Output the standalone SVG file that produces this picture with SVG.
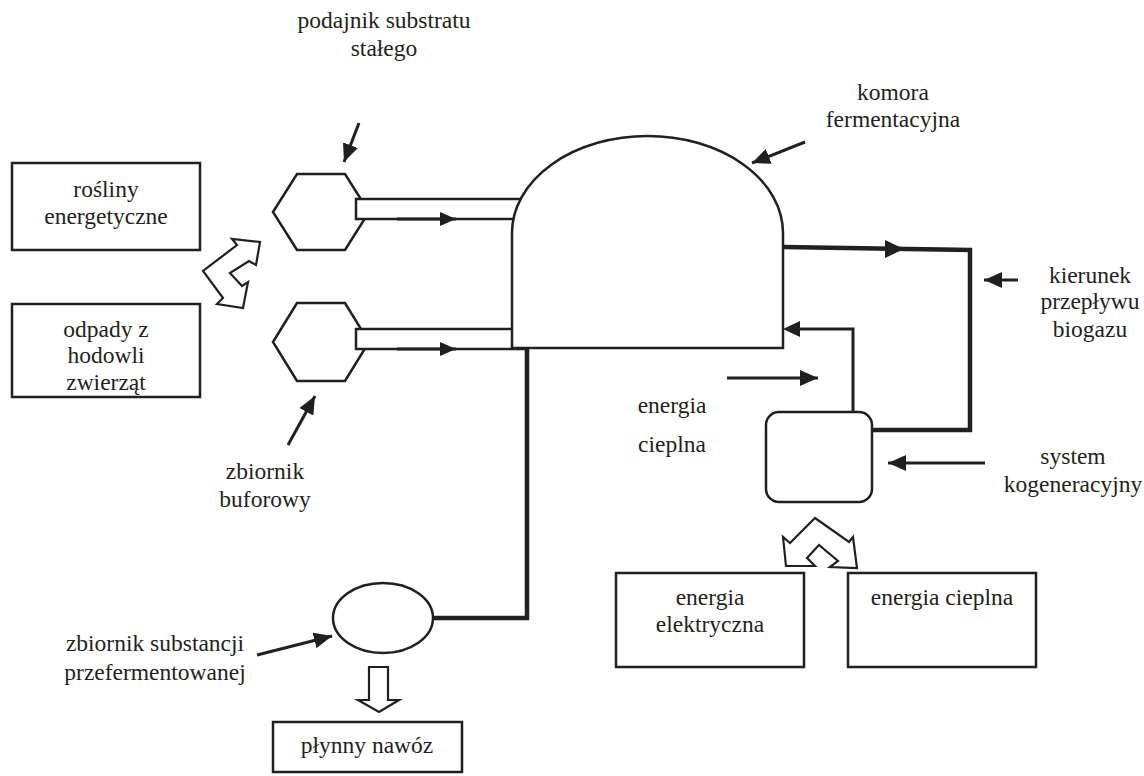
<svg xmlns="http://www.w3.org/2000/svg" width="1144" height="776" viewBox="0 0 1144 776">
<style>
text{font-family:'Liberation Serif','Times New Roman','DejaVu Serif',serif;font-size:23.5px;fill:#231f20;text-anchor:middle}
.box{fill:#fff;stroke:#231f20;stroke-width:2.5}
.thick{fill:none;stroke:#231f20;stroke-width:4.5}
.med{fill:none;stroke:#231f20;stroke-width:3}
.lbl{fill:none;stroke:#231f20;stroke-width:3}
.hollow{fill:#fff;stroke:#231f20;stroke-width:2.2;stroke-linejoin:miter}
</style>
<defs>
<marker id="ah" markerUnits="userSpaceOnUse" markerWidth="20" markerHeight="16" refX="18" refY="8" orient="auto">
<path d="M0,0 L18,8 L0,16 Z" fill="#231f20"/>
</marker>
<marker id="ahs" markerUnits="userSpaceOnUse" markerWidth="18" markerHeight="14" refX="16" refY="7" orient="auto">
<path d="M0,0 L16,7 L0,14 Z" fill="#231f20"/>
</marker>
</defs>
<rect width="1144" height="776" fill="#fff"/>

<g id="rosliny">
<rect class="box" x="12" y="163" width="188" height="87"/>
<text x="106" y="197">rośliny</text>
<text x="106" y="224">energetyczne</text>
</g>
<g id="odpady">
<rect class="box" x="12" y="304" width="188" height="93"/>
<text x="106" y="337">odpady z</text>
<text x="106" y="363">hodowli</text>
<text x="106" y="390">zwierząt</text>
</g>
<g id="double-arrow-left">
<polygon class="hollow" points="260,242 256,265 249,261 230,273 242,286 248,282 243,308 217,304 223,298 203,271 237,245 232,239"/>
</g>

<g id="podajnik">
<polygon class="box" points="273,212 297,174 345,174 369,212 345,250 297,250"/>
</g>
<g id="zbiornik-buforowy">
<polygon class="box" points="273,342 297,303 345,303 369,342 345,381 297,381"/>
</g>

<g id="connectors">
<rect class="box" x="356" y="199" width="174" height="20"/>
<rect class="box" x="356" y="329" width="170" height="20"/>
<line class="med" x1="397" y1="219" x2="456" y2="219" marker-end="url(#ahs)"/>
<line class="med" x1="397" y1="349" x2="456" y2="349" marker-end="url(#ahs)"/>
<polyline class="thick" points="527,347 527,618 433,618"/>
<polyline class="thick" points="783,247 970,250 970,430 872,430"/>
<path d="M885,240 L904,249 L885,258 Z" fill="#231f20"/>
<polyline class="med" points="853,412 853,329 800,329"/>
<path d="M783,329 L800,321 L800,337 Z" fill="#231f20"/>
<line class="med" x1="727" y1="378" x2="818" y2="378" marker-end="url(#ah)"/>
</g>

<g id="komora">
<path class="box" d="M512,348 L512,233 A135.5,97 0 0 1 783,233 L783,348 Z"/>
</g>

<g id="kogeneracja">
<rect class="box" x="766" y="412" width="106" height="90" rx="13"/>
</g>
<g id="double-arrow-right">
<polygon class="hollow" points="815,518 849,542 853,537 857,568 830,567 838,561 819,545 807,558 815,566 786,566 783,537 790,543"/>
</g>
<g id="energia-elektryczna">
<rect class="box" x="616" y="573" width="188" height="94"/>
<text x="710" y="605">energia</text>
<text x="710" y="632">elektryczna</text>
</g>
<g id="energia-cieplna-box">
<rect class="box" x="848" y="573" width="188" height="94"/>
<text x="942" y="605">energia cieplna</text>
</g>

<g id="zbiornik-substancji">
<ellipse class="box" cx="383" cy="618" rx="50" ry="35"/>
</g>
<g id="down-arrow">
<polygon class="hollow" points="369,667 388,667 388,700 399,700 379,712 358,700 369,700"/>
</g>
<g id="plynny-nawoz">
<rect class="box" x="273" y="722" width="189" height="50"/>
<text x="367" y="753">płynny nawóz</text>
</g>

<g id="labels">
<text x="384" y="28">podajnik substratu</text>
<text x="384" y="56">stałego</text>
<line class="lbl" x1="359" y1="123" x2="344" y2="162" marker-end="url(#ah)"/>
<text x="893" y="100">komora</text>
<text x="893" y="127">fermentacyjna</text>
<line class="lbl" x1="805" y1="142" x2="752" y2="163" marker-end="url(#ah)"/>
<text x="1090" y="283">kierunek</text>
<text x="1090" y="309">przepływu</text>
<text x="1090" y="337">biogazu</text>
<line class="lbl" x1="1018" y1="280" x2="984" y2="280" marker-end="url(#ah)"/>
<text x="672" y="413">energia</text>
<text x="672" y="452">cieplna</text>
<text x="1073" y="464">system</text>
<text x="1073" y="492">kogeneracyjny</text>
<line class="lbl" x1="985" y1="463" x2="888" y2="463" marker-end="url(#ah)"/>
<text x="265" y="479">zbiornik</text>
<text x="265" y="507">buforowy</text>
<line class="lbl" x1="288" y1="445" x2="315" y2="396" marker-end="url(#ah)"/>
<text x="155" y="651">zbiornik substancji</text>
<text x="155" y="680">przefermentowanej</text>
<line class="lbl" x1="257" y1="655" x2="332" y2="636" marker-end="url(#ah)"/>
</g>
</svg>
